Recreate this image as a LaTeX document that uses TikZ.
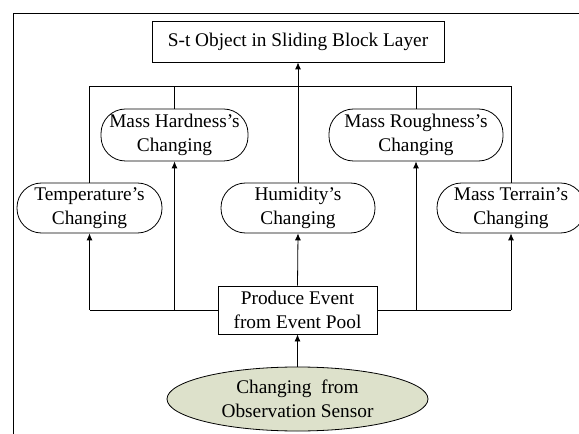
\documentclass[tikz,border=0pt]{standalone}
\usepackage{fontspec}
\setmainfont{Liberation Serif}
\usetikzlibrary{arrows.meta,shapes.geometric}
\definecolor{sensorfill}{RGB}{221,225,203}
\tikzset{
  base/.style={draw=black, line width=0.8bp, align=center, inner sep=0pt,
    font=\fontsize{19.4}{24}\selectfont},
  rectbox/.style={base, fill=white},
  roundbox/.style={base, fill=white, rounded corners=24.5bp},
  sensor/.style={base, ellipse, fill=sensorfill},
  link/.style={draw=black, line width=0.8bp},
  arr/.style={link, -{Latex[length=7bp,width=6bp]}}
}
\begin{document}
\begin{tikzpicture}[x=1bp,y=-1bp]
\clip (0,0) rectangle (579,434);
% frame
\draw[link] (600,13.3) -- (13.3,13.3) -- (13.3,450);
% nodes
\node[rectbox, minimum width=292bp, minimum height=41bp] (top) at (298,41.5) {S-t Object in Sliding Block Layer};
\node[roundbox, minimum width=147bp, minimum height=52bp] (hard) at (174.5,135) {Mass Hardness’s\\Changing};
\node[roundbox, minimum width=174bp, minimum height=52bp] (rough) at (416,135) {Mass Roughness’s\\Changing};
\node[roundbox, minimum width=145bp, minimum height=50bp] (temp) at (89.5,208) {Temperature’s\\Changing};
\node[roundbox, minimum width=154bp, minimum height=50bp] (hum) at (298,208) {Humidity’s\\Changing};
\node[roundbox, minimum width=148bp, minimum height=50bp] (terr) at (511,208) {Mass Terrain’s\\Changing};
\node[rectbox, minimum width=159bp, minimum height=48bp] (prod) at (297.5,310) {Produce Event\\from Event Pool};
\node[sensor, minimum width=261bp, minimum height=64bp] (sens) at (297.5,399) {Changing~ from\\Observation Sensor};
\coordinate (bustop) at (298,86);
% top bus
\draw[link] (temp.north) -- (temp.north |- bustop) -- (terr.north |- bustop) -- (terr.north);
\draw[link] (hard.north) -- (hard.north |- bustop);
\draw[link] (rough.north) -- (rough.north |- bustop);
\draw[arr] (hum.north) -- (top.south);
% bottom bus
\draw[link] (prod.west) -- (prod.west -| temp.south);
\draw[link] (prod.east) -- (prod.east -| terr.south);
\draw[arr] (prod.west -| temp.south) -- (temp.south);
\draw[arr] (prod.west -| hard.south) -- (hard.south);
\draw[arr] (prod.east -| rough.south) -- (rough.south);
\draw[arr] (prod.east -| terr.south) -- (terr.south);
\draw[arr] (prod.north) -- (hum.south);
\draw[arr] (sens.north) -- (prod.south);
\end{tikzpicture}
\end{document}
